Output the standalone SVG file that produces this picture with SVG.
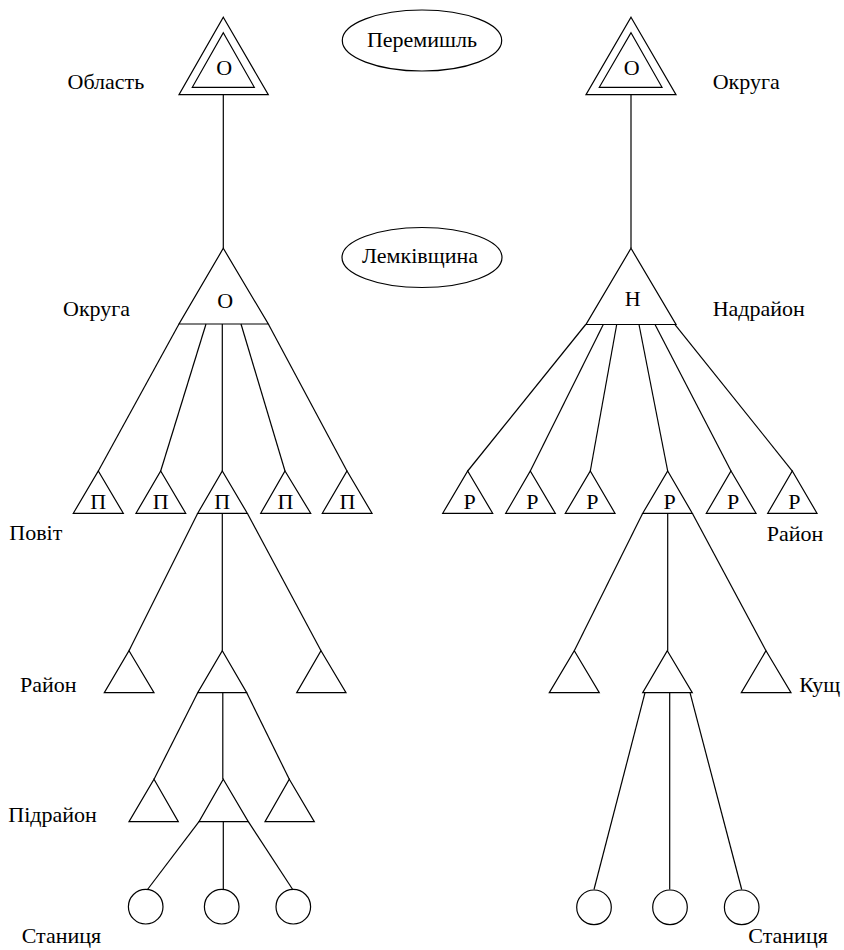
<svg xmlns="http://www.w3.org/2000/svg" width="844" height="950" viewBox="0 0 844 950" font-family="'Liberation Serif', 'DejaVu Serif', serif">
<style>
.s{fill:none;stroke:#000;stroke-width:1.2}
text{font-family:'Liberation Serif','DejaVu Serif',serif;font-size:22px;fill:#000;font-weight:normal}
.c{text-anchor:middle}
</style>
<rect width="844" height="950" fill="#fff"/>
<g id="connectors" class="s">
<line x1="223.3" y1="94.7" x2="223.3" y2="248.3"/>
<line x1="631" y1="94.7" x2="631" y2="248.3"/>
<line x1="179" y1="324" x2="98.3" y2="471"/>
<line x1="206" y1="324" x2="160.7" y2="471"/>
<line x1="222.3" y1="324" x2="222.3" y2="471"/>
<line x1="241" y1="324" x2="285" y2="471"/>
<line x1="268.3" y1="324" x2="347" y2="471"/>
<line x1="197.7" y1="513.3" x2="129" y2="650.7"/>
<line x1="222.3" y1="513.3" x2="222.3" y2="650.7"/>
<line x1="247.3" y1="513.3" x2="321" y2="650.7"/>
<line x1="197.7" y1="692.7" x2="154" y2="779.3"/>
<line x1="222.8" y1="692.7" x2="222.8" y2="779.3"/>
<line x1="246.7" y1="692.7" x2="289.3" y2="779.3"/>
<line x1="199" y1="821.7" x2="147.5" y2="889.5"/>
<line x1="223.3" y1="821.7" x2="223.3" y2="889.3"/>
<line x1="248.3" y1="821.7" x2="292.7" y2="889.5"/>
<line x1="585.7" y1="324.5" x2="467.7" y2="471"/>
<line x1="603.3" y1="324.5" x2="530.3" y2="471"/>
<line x1="616.7" y1="324.5" x2="590.3" y2="471"/>
<line x1="639" y1="324.5" x2="667.7" y2="471"/>
<line x1="655" y1="324.5" x2="731" y2="471"/>
<line x1="675" y1="324.5" x2="792.3" y2="471"/>
<line x1="642.7" y1="513.3" x2="574.3" y2="650.7"/>
<line x1="667.7" y1="513.3" x2="667.7" y2="650.7"/>
<line x1="692.3" y1="513.3" x2="766" y2="650.7"/>
<line x1="645" y1="692.7" x2="594" y2="889.5"/>
<line x1="669.7" y1="692.7" x2="669.7" y2="889.5"/>
<line x1="690" y1="692.7" x2="741.7" y2="889.5"/>
</g>
<g id="peremyshl">
<ellipse class="s" cx="422" cy="40.5" rx="79.7" ry="30.5"/>
<text class="c" x="422" y="47">Перемишль</text>
</g>
<g id="lemkivshchyna">
<ellipse class="s" cx="422" cy="257.5" rx="80" ry="30"/>
<text class="c" x="420" y="263">Лемківщина</text>
</g>
<g id="oblast">
<polygon class="s" points="223.3,17.3 268.3,94.7 179,94.7"/>
<polygon class="s" points="223.3,32.7 254.3,87.3 192.3,87.3"/>
<text class="c" x="224.2" y="75">О</text>
<text x="67.5" y="89">Область</text>
</g>
<g id="okruha-left">
<polygon class="s" points="223.3,248.3 268.3,324 179,324"/>
<text class="c" x="225.3" y="308.3">О</text>
<text x="63" y="316">Округа</text>
</g>
<g id="povit">
<polygon class="s" points="98.3,471 123.3,513.3 73.3,513.3"/>
<text class="c" x="98.3" y="509.3">П</text>
<polygon class="s" points="160.7,471 185.7,513.3 136,513.3"/>
<text class="c" x="160.7" y="509.3">П</text>
<polygon class="s" points="222.3,471 247.3,513.3 197.7,513.3"/>
<text class="c" x="222.3" y="509.3">П</text>
<polygon class="s" points="285,471 310.7,513.3 260.7,513.3"/>
<text class="c" x="285.5" y="509.3">П</text>
<polygon class="s" points="347,471 372,513.3 322.3,513.3"/>
<text class="c" x="347.5" y="509.3">П</text>
<text x="9.3" y="540">Повіт</text>
</g>
<g id="raion-left">
<polygon class="s" points="129,650.7 154,692.7 104.3,692.7"/>
<polygon class="s" points="222.3,650.7 246.7,692.7 197.7,692.7"/>
<polygon class="s" points="321,650.7 346,692.7 296.7,692.7"/>
<text x="20" y="692.3">Район</text>
</g>
<g id="pidraion">
<polygon class="s" points="154,779.3 178.3,821.7 129,821.7"/>
<polygon class="s" points="223.3,779.3 248.3,821.7 199,821.7"/>
<polygon class="s" points="289.3,779.3 314.3,821.7 265,821.7"/>
<text x="8.3" y="822.3">Підрайон</text>
</g>
<g id="stanytsia-left">
<circle class="s" cx="145.7" cy="906.7" r="17.3"/>
<circle class="s" cx="221.7" cy="906.7" r="17.3"/>
<circle class="s" cx="293.3" cy="906.7" r="17.3"/>
<text x="21.7" y="943.3">Станиця</text>
</g>
<g id="okruha-right">
<polygon class="s" points="631,17.3 676,94.7 586,94.7"/>
<polygon class="s" points="631,32.7 662,87.3 599.3,87.3"/>
<text class="c" x="631.7" y="75">О</text>
<text x="712.7" y="89">Округа</text>
</g>
<g id="nadraion">
<polygon class="s" points="631,248.3 676,324.5 586,324.5"/>
<text class="c" x="632.7" y="305.7">Н</text>
<text x="712.7" y="316">Надрайон</text>
</g>
<g id="raion-right">
<polygon class="s" points="467.7,471 492.7,513.3 442.7,513.3"/>
<text class="c" x="469.7" y="509.3">Р</text>
<polygon class="s" points="530.3,471 555.3,513.3 505.7,513.3"/>
<text class="c" x="532.3" y="509.3">Р</text>
<polygon class="s" points="590.3,471 615,513.3 565.3,513.3"/>
<text class="c" x="592.3" y="509.3">Р</text>
<polygon class="s" points="667.7,471 692.3,513.3 642.7,513.3"/>
<text class="c" x="669.7" y="509.3">Р</text>
<polygon class="s" points="731,471 756,513.3 706.3,513.3"/>
<text class="c" x="733" y="509.3">Р</text>
<polygon class="s" points="792.3,471 817,513.3 767.7,513.3"/>
<text class="c" x="794.3" y="509.3">Р</text>
<text x="766.7" y="540.7">Район</text>
</g>
<g id="kushch">
<polygon class="s" points="574.3,650.7 599.3,692.7 549.3,692.7"/>
<polygon class="s" points="667.3,650.7 692.3,692.7 642.7,692.7"/>
<polygon class="s" points="766,650.7 791,692.7 741.3,692.7"/>
<text x="799.3" y="692.3">Кущ</text>
</g>
<g id="stanytsia-right">
<circle class="s" cx="594" cy="907.3" r="17.3"/>
<circle class="s" cx="670" cy="907.3" r="17.3"/>
<circle class="s" cx="741.7" cy="907.3" r="17.3"/>
<text x="748.3" y="943.3">Станиця</text>
</g>
</svg>
